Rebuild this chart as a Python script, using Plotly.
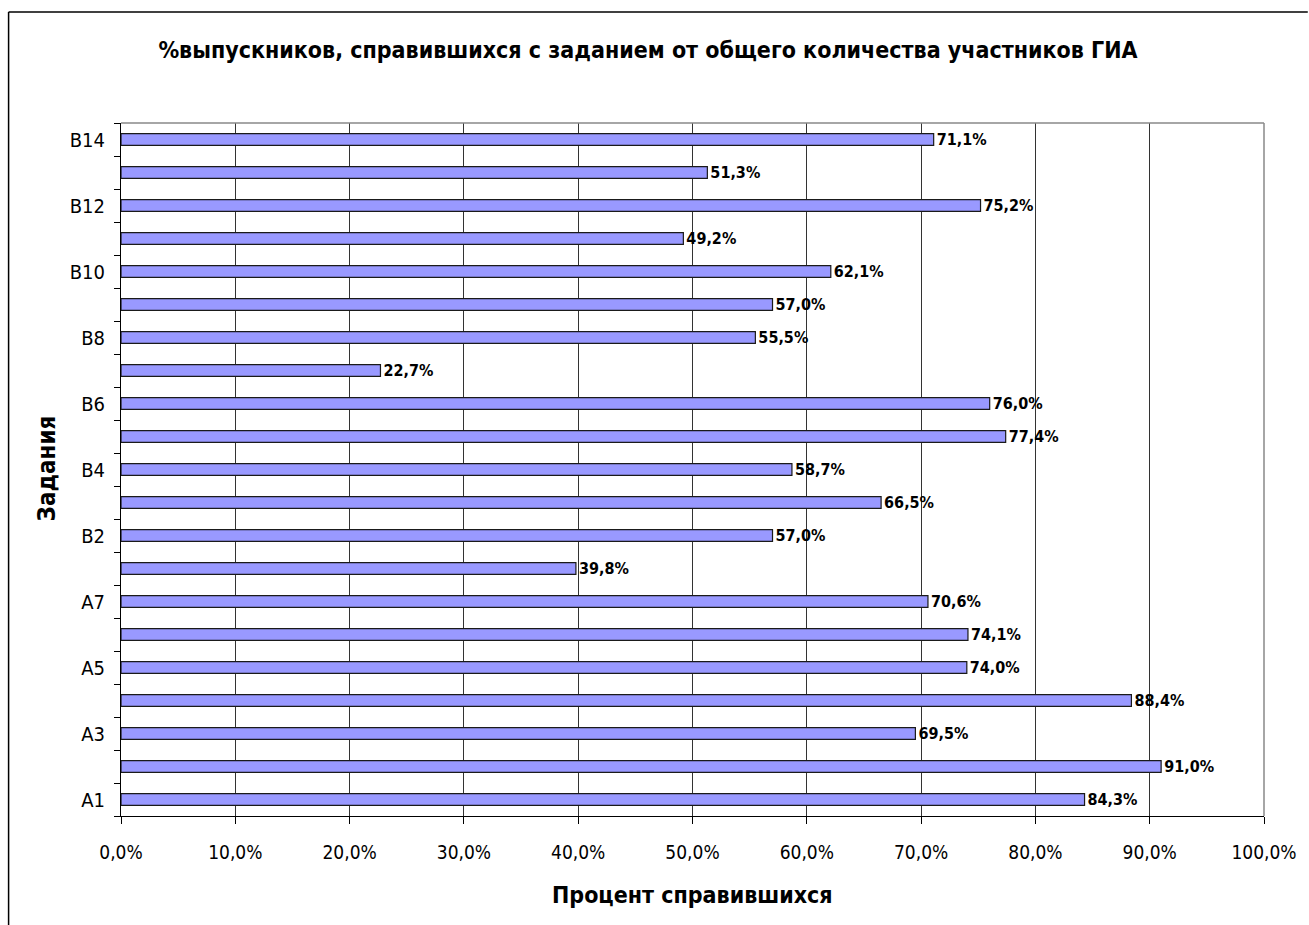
import plotly.graph_objects as go

categories = ["А1", "А2", "А3", "А4", "А5", "А6", "А7",
              "В1", "В2", "В3", "В4", "В5", "В6", "В7", "В8", "В9", "В10",
              "В11", "В12", "В13", "В14"]
values = [0.843, 0.910, 0.695, 0.884, 0.740, 0.741, 0.706,
          0.398, 0.570, 0.665, 0.587, 0.774, 0.760, 0.227, 0.555, 0.570, 0.621,
          0.492, 0.752, 0.513, 0.711]
title_text = "%выпускников, справившихся с заданием от общего количества участников ГИА"
x_title = "Процент справившихся"
y_title = "Задания"

FONT = "Liberation Sans Narrow, Arial Narrow, DejaVu Sans Condensed, Liberation Sans, sans-serif"

W, H = 1309, 925
L, R, T, B = 121, 1270, 123, 816
pw, ph = R - L, B - T

def px_x(p):
    return (p - L) / pw

def px_y(p):
    return (B - p) / ph

pos = list(range(len(categories)))

fig = go.Figure()
fig.add_trace(go.Bar(
    x=values, y=pos, orientation="h",
    marker=dict(color="#9999FF", line=dict(color="#1a1a1a", width=1.2)),
    width=0.36,
    texttemplate="%{x:.1%}", textposition="outside", constraintext="none",
    textfont=dict(family=FONT, size=16, color="black", weight="bold"),
    cliponaxis=False, hoverinfo="skip",
))

fig.update_layout(
    width=W, height=H,
    margin=dict(l=L, r=W - R, t=T, b=H - B),
    paper_bgcolor="white", plot_bgcolor="white",
    separators=", ",
    showlegend=False,
    font=dict(family=FONT, size=18, color="black"),
    title=dict(text=title_text, x=648 / W, xanchor="center", y=1 - 50 / H, yanchor="middle",
               yref="container", font=dict(family=FONT, size=23, color="black", weight="bold")),
    xaxis=dict(range=[0, 1], dtick=0.1, tick0=0, tickformat=".1%",
               showgrid=True, gridcolor="#333333", gridwidth=1,
               ticks="outside", ticklen=7, tickcolor="black",
               showline=True, linecolor="black", linewidth=1, mirror=False,
               zeroline=False, tickfont=dict(family=FONT, size=19), ticklabelstandoff=12),
    yaxis=dict(range=[-0.5, len(categories) - 0.5],
               tickvals=pos[::2], ticktext=categories[::2],
               ticks="", showgrid=False, zeroline=False,
               showline=True, linecolor="black", linewidth=1,
               minor=dict(ticks="outside", ticklen=6, tickcolor="black",
                          tick0=-0.5, dtick=1, showgrid=False),
               tickfont=dict(family=FONT, size=20), ticklabelstandoff=11),
)

shapes = [
    # gray top and right plot borders
    dict(type="line", xref="paper", yref="paper", x0=0, x1=1, y0=1, y1=1,
         line=dict(color="#888888", width=1.5)),
    dict(type="line", xref="paper", yref="paper", x0=1, x1=1, y0=0, y1=1,
         line=dict(color="#888888", width=1.5)),
    # outer chart frame (left & top)
    dict(type="line", xref="paper", yref="paper", x0=px_x(8), x1=px_x(8), y0=px_y(H + 5), y1=px_y(12),
         line=dict(color="black", width=1.5)),
    dict(type="line", xref="paper", yref="paper", x0=px_x(8), x1=px_x(W + 5), y0=px_y(12), y1=px_y(12),
         line=dict(color="black", width=1.5)),
]
fig.update_layout(shapes=shapes)

fig.add_annotation(text=y_title, xref="paper", yref="paper", x=px_x(47), y=px_y(468),
                   textangle=-90, showarrow=False, xanchor="center", yanchor="middle",
                   font=dict(family=FONT, size=24, color="black", weight="bold"))
fig.add_annotation(text=x_title, xref="paper", yref="paper", x=px_x(696), y=px_y(895),
                   showarrow=False, xanchor="center", yanchor="middle",
                   font=dict(family=FONT, size=23, color="black", weight="bold"))

fig.write_html("out.html", config={"displayModeBar": False},
               post_script="document.body.style.margin='0';")
